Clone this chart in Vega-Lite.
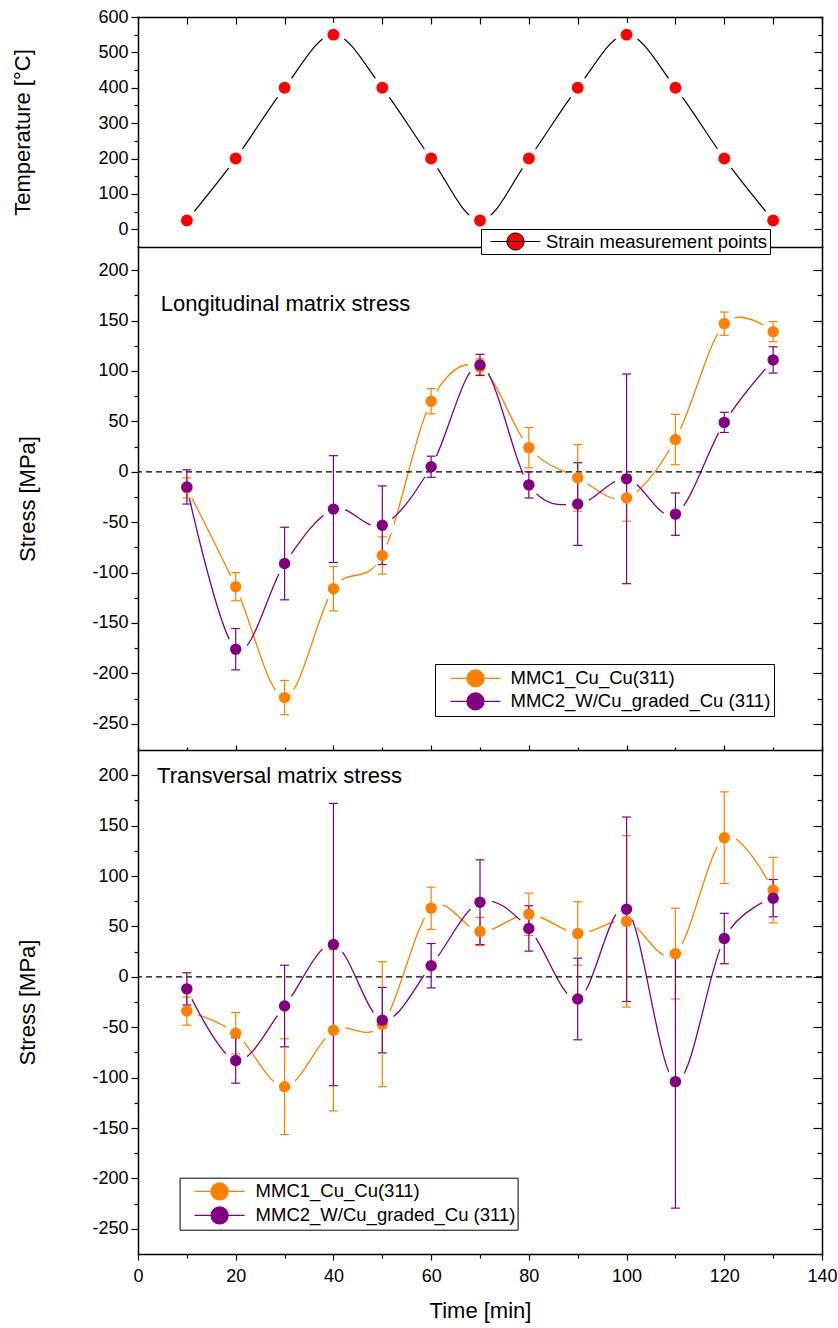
{
"$schema": "https://vega.github.io/schema/vega-lite/v6.json",
"padding": {"left": 11, "top": 8, "right": 5, "bottom": 4},
"datasets": {
 "temp": [
  {"t":10,"T":25,"series":"Strain measurement points"},{"t":20,"T":200,"series":"Strain measurement points"},{"t":30,"T":400,"series":"Strain measurement points"},{"t":40,"T":550,"series":"Strain measurement points"},{"t":50,"T":400,"series":"Strain measurement points"},{"t":60,"T":200,"series":"Strain measurement points"},{"t":70,"T":25,"series":"Strain measurement points"},{"t":80,"T":200,"series":"Strain measurement points"},{"t":90,"T":400,"series":"Strain measurement points"},{"t":100,"T":550,"series":"Strain measurement points"},{"t":110,"T":400,"series":"Strain measurement points"},{"t":120,"T":200,"series":"Strain measurement points"},{"t":130,"T":25,"series":"Strain measurement points"}
 ],
 "long": [
  {"t":10,"s":"MMC1_Cu_Cu(311)","v":-16,"e":10},{"t":20,"s":"MMC1_Cu_Cu(311)","v":-114,"e":14},{"t":30,"s":"MMC1_Cu_Cu(311)","v":-224,"e":17},{"t":40,"s":"MMC1_Cu_Cu(311)","v":-116,"e":22},{"t":50,"s":"MMC1_Cu_Cu(311)","v":-83,"e":18.5},{"t":60,"s":"MMC1_Cu_Cu(311)","v":70,"e":12.5},{"t":70,"s":"MMC1_Cu_Cu(311)","v":104,"e":8},{"t":80,"s":"MMC1_Cu_Cu(311)","v":24,"e":20},{"t":90,"s":"MMC1_Cu_Cu(311)","v":-6,"e":33},{"t":100,"s":"MMC1_Cu_Cu(311)","v":-26,"e":23},{"t":110,"s":"MMC1_Cu_Cu(311)","v":32,"e":25},{"t":120,"s":"MMC1_Cu_Cu(311)","v":147,"e":11.5},{"t":130,"s":"MMC1_Cu_Cu(311)","v":139,"e":10},
  {"t":10,"s":"MMC2_W/Cu_graded_Cu (311)","v":-15,"e":17},{"t":20,"s":"MMC2_W/Cu_graded_Cu (311)","v":-176,"e":20.5},{"t":30,"s":"MMC2_W/Cu_graded_Cu (311)","v":-91,"e":36},{"t":40,"s":"MMC2_W/Cu_graded_Cu (311)","v":-37,"e":53},{"t":50,"s":"MMC2_W/Cu_graded_Cu (311)","v":-53,"e":39},{"t":60,"s":"MMC2_W/Cu_graded_Cu (311)","v":5,"e":10.5},{"t":70,"s":"MMC2_W/Cu_graded_Cu (311)","v":106,"e":10.5},{"t":80,"s":"MMC2_W/Cu_graded_Cu (311)","v":-13,"e":13},{"t":90,"s":"MMC2_W/Cu_graded_Cu (311)","v":-32,"e":41},{"t":100,"s":"MMC2_W/Cu_graded_Cu (311)","v":-7,"e":104},{"t":110,"s":"MMC2_W/Cu_graded_Cu (311)","v":-42,"e":21},{"t":120,"s":"MMC2_W/Cu_graded_Cu (311)","v":49,"e":10},{"t":130,"s":"MMC2_W/Cu_graded_Cu (311)","v":111,"e":13}
 ],
 "trans": [
  {"t":10,"s":"MMC1_Cu_Cu(311)","v":-34,"e":14},{"t":20,"s":"MMC1_Cu_Cu(311)","v":-56,"e":20.5},{"t":30,"s":"MMC1_Cu_Cu(311)","v":-109,"e":47.5},{"t":40,"s":"MMC1_Cu_Cu(311)","v":-53,"e":80},{"t":50,"s":"MMC1_Cu_Cu(311)","v":-47,"e":62},{"t":60,"s":"MMC1_Cu_Cu(311)","v":68,"e":21},{"t":70,"s":"MMC1_Cu_Cu(311)","v":45,"e":14},{"t":80,"s":"MMC1_Cu_Cu(311)","v":62,"e":21},{"t":90,"s":"MMC1_Cu_Cu(311)","v":43,"e":31.5},{"t":100,"s":"MMC1_Cu_Cu(311)","v":55,"e":85},{"t":110,"s":"MMC1_Cu_Cu(311)","v":23,"e":45},{"t":120,"s":"MMC1_Cu_Cu(311)","v":138,"e":45.5},{"t":130,"s":"MMC1_Cu_Cu(311)","v":86,"e":32.5},
  {"t":10,"s":"MMC2_W/Cu_graded_Cu (311)","v":-12,"e":16},{"t":20,"s":"MMC2_W/Cu_graded_Cu (311)","v":-83,"e":22.5},{"t":30,"s":"MMC2_W/Cu_graded_Cu (311)","v":-29,"e":40.5},{"t":40,"s":"MMC2_W/Cu_graded_Cu (311)","v":32,"e":140},{"t":50,"s":"MMC2_W/Cu_graded_Cu (311)","v":-43,"e":32.5},{"t":60,"s":"MMC2_W/Cu_graded_Cu (311)","v":11,"e":22},{"t":70,"s":"MMC2_W/Cu_graded_Cu (311)","v":74,"e":42},{"t":80,"s":"MMC2_W/Cu_graded_Cu (311)","v":48,"e":22.5},{"t":90,"s":"MMC2_W/Cu_graded_Cu (311)","v":-22,"e":40.5},{"t":100,"s":"MMC2_W/Cu_graded_Cu (311)","v":67,"e":91.5},{"t":110,"s":"MMC2_W/Cu_graded_Cu (311)","v":-104,"e":125.5},{"t":120,"s":"MMC2_W/Cu_graded_Cu (311)","v":38,"e":25},{"t":130,"s":"MMC2_W/Cu_graded_Cu (311)","v":78,"e":18.5}
 ]
},
"spacing": 0,
"bounds": "flush",
"resolve": {"scale": {"color": "independent"}, "legend": {"color": "independent"}},
"vconcat": [
 {
  "width": 684, "height": 230,
  "data": {"name": "temp"},
  "layer": [
   {"mark": {"type": "line", "interpolate": "cardinal", "color": "black", "strokeWidth": 1.2},
    "encoding": {
     "x": {"field": "t", "type": "quantitative", "scale": {"domain": [0,140], "nice": false, "zero": false}, "axis": {"orient": "bottom", "values": [], "ticks": false, "labels": false, "title": null, "zindex": 0}},
     "y": {"field": "T", "type": "quantitative", "scale": {"domain": [-50,600], "nice": false, "zero": false},
       "axis": {"orient": "left", "values": [0,50,100,150,200,250,300,350,400,450,500,550,600], "labelExpr": "datum.value % 100 === 0 ? '' + datum.value : ''", "tickSize": {"condition": {"test": "datum.value % 100 === 0", "value": 7}, "value": 4}, "labelPadding": 3, "title": "Temperature [°C]", "titleX": -109, "titleBaseline": "alphabetic", "titleAngle": 270}}
    }},
   {"mark": {"type": "point", "filled": true, "color": "white", "opacity": 1, "size": 560},
    "encoding": {
     "x": {"field": "t", "type": "quantitative", "scale": {"domain": [0,140], "nice": false, "zero": false}, "axis": {"orient": "top", "values": [0,10,20,30,40,50,60,70,80,90,100,110,120,130,140], "labels": false, "title": null, "tickSize": -7}},
     "y": {"field": "T", "type": "quantitative", "scale": {"domain": [-50,600], "nice": false, "zero": false}, "axis": {"orient": "right", "values": [0,50,100,150,200,250,300,350,400,450,500,550,600], "labels": false, "title": null, "tickSize": {"condition": {"test": "datum.value % 100 === 0", "value": -8}, "value": -4}}}
    }},
   {"mark": {"type": "point", "filled": true, "opacity": 1, "size": 140},
    "encoding": {
     "x": {"field": "t", "type": "quantitative", "scale": {"domain": [0,140], "nice": false, "zero": false}, "axis": null},
     "y": {"field": "T", "type": "quantitative", "scale": {"domain": [-50,600], "nice": false, "zero": false}, "axis": null},
     "color": {"field": "series", "type": "nominal", "scale": {"range": ["#FF0000"]},
       "legend": {"orient": "none", "legendX": 343, "legendY": 212, "title": null, "symbolType": "M-1,0L1,0M0.34,0A0.34,0.34,0,1,1,-0.34,0A0.34,0.34,0,1,1,0.34,0Z", "symbolSize": 2500, "symbolStrokeWidth": 1, "symbolStrokeColor": "black", "labelFont": "Liberation Sans", "labelFontSize": 18.5, "labelColor": "black", "labelLimit": 400, "fillColor": "white", "strokeColor": "black", "padding": 2, "clipHeight": 21, "rowPadding": 0, "symbolOffset": 7, "labelOffset": 5, "zindex": 2,
         "encode": {"symbols": {"stroke": {"value": "black"}, "fill": {"value": "#FF0000"}, "strokeWidth": {"value": 1}}}}}
    }}
  ],
  "resolve": {"axis": {"x": "independent", "y": "independent"}}
 },
 {
  "width": 684, "height": 503,
  "data": {"name": "long"},
  "layer": [
   {"transform": [{"filter": "datum.s === 'MMC1_Cu_Cu(311)'"}],
    "mark": {"type": "line", "interpolate": "cardinal", "strokeWidth": 1.3},
    "encoding": {
     "x": {"field": "t", "type": "quantitative", "scale": {"domain": [0,140], "nice": false, "zero": false}, "axis": {"orient": "bottom", "values": [0,10,20,30,40,50,60,70,80,90,100,110,120,130,140], "labels": false, "title": null, "tickSize": {"condition": {"test": "datum.value % 20 === 0", "value": -5}, "value": -3}}},
     "y": {"field": "v", "type": "quantitative", "scale": {"domain": [-276,223], "nice": false, "zero": false},
       "axis": {"orient": "left", "values": [-250,-225,-200,-175,-150,-125,-100,-75,-50,-25,0,25,50,75,100,125,150,175,200], "labelExpr": "datum.value % 50 === 0 ? '' + datum.value : ''", "tickSize": {"condition": {"test": "datum.value % 50 === 0", "value": 7}, "value": 4}, "labelPadding": 3, "title": "Stress [MPa]", "titleX": -104, "titleBaseline": "alphabetic", "titleAngle": 270}},
     "color": {"field": "s", "type": "nominal", "scale": {"domain": ["MMC1_Cu_Cu(311)", "MMC2_W/Cu_graded_Cu (311)"], "range": ["#FF8000", "#800080"]}}
    }},
   {"transform": [{"filter": "datum.s === 'MMC1_Cu_Cu(311)'"}],
    "mark": {"type": "point", "filled": true, "color": "white", "opacity": 1, "size": 560},
    "encoding": {
     "x": {"field": "t", "type": "quantitative", "scale": {"domain": [0,140], "nice": false, "zero": false}, "axis": null},
     "y": {"field": "v", "type": "quantitative", "scale": {"domain": [-276,223], "nice": false, "zero": false}, "axis": {"orient": "right", "values": [-250,-225,-200,-175,-150,-125,-100,-75,-50,-25,0,25,50,75,100,125,150,175,200], "labels": false, "title": null, "tickSize": {"condition": {"test": "datum.value % 50 === 0", "value": -9}, "value": -5}}}
    }},
   {"transform": [{"filter": "datum.s !== 'MMC1_Cu_Cu(311)'"}],
    "mark": {"type": "line", "interpolate": "cardinal", "strokeWidth": 1.3},
    "encoding": {
     "x": {"field": "t", "type": "quantitative", "scale": {"domain": [0,140], "nice": false, "zero": false}, "axis": null},
     "y": {"field": "v", "type": "quantitative", "scale": {"domain": [-276,223], "nice": false, "zero": false}, "axis": null},
     "color": {"field": "s", "type": "nominal", "scale": {"domain": ["MMC1_Cu_Cu(311)", "MMC2_W/Cu_graded_Cu (311)"], "range": ["#FF8000", "#800080"]}}
    }},
   {"transform": [{"filter": "datum.s !== 'MMC1_Cu_Cu(311)'"}],
    "mark": {"type": "point", "filled": true, "color": "white", "opacity": 1, "size": 560},
    "encoding": {
     "x": {"field": "t", "type": "quantitative", "scale": {"domain": [0,140], "nice": false, "zero": false}, "axis": null},
     "y": {"field": "v", "type": "quantitative", "scale": {"domain": [-276,223], "nice": false, "zero": false}, "axis": null}
    }},
   {"data": {"values": [{"ref": 0}]},
    "mark": {"type": "rule", "strokeDash": [6,4], "color": "black", "strokeWidth": 1.2},
    "encoding": {"y": {"field": "ref", "type": "quantitative", "scale": {"domain": [-276,223], "nice": false, "zero": false}, "axis": null}}},
   {"mark": {"type": "errorbar", "ticks": {"size": 9, "thickness": 1.2, "opacity": 1}, "rule": {"strokeWidth": 1.2, "opacity": 1}},
    "encoding": {
     "x": {"field": "t", "type": "quantitative", "scale": {"domain": [0,140], "nice": false, "zero": false}, "axis": null},
     "y": {"field": "v", "type": "quantitative", "scale": {"domain": [-276,223], "nice": false, "zero": false}, "axis": null},
     "yError": {"field": "e"},
     "color": {"field": "s", "type": "nominal", "scale": {"domain": ["MMC1_Cu_Cu(311)", "MMC2_W/Cu_graded_Cu (311)"], "range": ["#FF8000", "#800080"]}}
    }},
   {"mark": {"type": "point", "filled": true, "opacity": 1, "size": 130},
    "encoding": {
     "x": {"field": "t", "type": "quantitative", "scale": {"domain": [0,140], "nice": false, "zero": false}, "axis": null},
     "y": {"field": "v", "type": "quantitative", "scale": {"domain": [-276,223], "nice": false, "zero": false}, "axis": null},
     "color": {"field": "s", "type": "nominal", "scale": {"domain": ["MMC1_Cu_Cu(311)", "MMC2_W/Cu_graded_Cu (311)"], "range": ["#FF8000", "#800080"]},
       "legend": {"orient": "none", "legendX": 297, "legendY": 417, "title": null, "symbolType": "M-1,0L1,0M0.34,0A0.34,0.34,0,1,1,-0.34,0A0.34,0.34,0,1,1,0.34,0Z", "symbolSize": 2500, "symbolStrokeWidth": 1.3, "labelFont": "Liberation Sans", "labelFontSize": 18.5, "labelColor": "black", "labelLimit": 400, "fillColor": "white", "strokeColor": "black", "padding": 3, "clipHeight": 22.7, "rowPadding": 0, "symbolOffset": 11.5, "labelOffset": 9, "zindex": 2,
         "encode": {"symbols": {"stroke": {"condition": {"test": "datum.value === 'MMC1_Cu_Cu(311)'", "value": "#FF8000"}, "value": "#800080"}, "fill": {"condition": {"test": "datum.value === 'MMC1_Cu_Cu(311)'", "value": "#FF8000"}, "value": "#800080"}, "strokeWidth": {"value": 1.3}}}}}
    }},
   {"data": {"values": [{"label": "Longitudinal matrix stress"}]},
    "mark": {"type": "text", "align": "left", "baseline": "alphabetic", "fontSize": 22, "font": "Liberation Sans", "color": "black"},
    "encoding": {
     "x": {"datum": 4.65, "type": "quantitative", "scale": {"domain": [0,140], "nice": false, "zero": false}, "axis": null},
     "y": {"datum": 160, "type": "quantitative", "scale": {"domain": [-276,223], "nice": false, "zero": false}, "axis": null},
     "text": {"field": "label"}
    }}
  ],
  "resolve": {"axis": {"x": "independent", "y": "independent"}}
 },
 {
  "width": 684, "height": 504,
  "data": {"name": "trans"},
  "layer": [
   {"transform": [{"filter": "datum.s === 'MMC1_Cu_Cu(311)'"}],
    "mark": {"type": "line", "interpolate": "cardinal", "strokeWidth": 1.3},
    "encoding": {
     "x": {"field": "t", "type": "quantitative", "scale": {"domain": [0,140], "nice": false, "zero": false}, "axis": {"orient": "bottom", "values": [0,10,20,30,40,50,60,70,80,90,100,110,120,130,140], "labelExpr": "datum.value % 20 === 0 ? '' + datum.value : ''", "tickSize": {"condition": {"test": "datum.value % 20 === 0", "value": 6}, "value": 4}, "labelPadding": 7, "title": "Time [min]", "titlePadding": 15}},
     "y": {"field": "v", "type": "quantitative", "scale": {"domain": [-275,225], "nice": false, "zero": false},
       "axis": {"orient": "left", "values": [-250,-225,-200,-175,-150,-125,-100,-75,-50,-25,0,25,50,75,100,125,150,175,200], "labelExpr": "datum.value % 50 === 0 ? '' + datum.value : ''", "tickSize": {"condition": {"test": "datum.value % 50 === 0", "value": 7}, "value": 4}, "labelPadding": 3, "title": "Stress [MPa]", "titleX": -104, "titleBaseline": "alphabetic", "titleAngle": 270}},
     "color": {"field": "s", "type": "nominal", "scale": {"domain": ["MMC1_Cu_Cu(311)", "MMC2_W/Cu_graded_Cu (311)"], "range": ["#FF8000", "#800080"]}}
    }},
   {"transform": [{"filter": "datum.s === 'MMC1_Cu_Cu(311)'"}],
    "mark": {"type": "point", "filled": true, "color": "white", "opacity": 1, "size": 560},
    "encoding": {
     "x": {"field": "t", "type": "quantitative", "scale": {"domain": [0,140], "nice": false, "zero": false}, "axis": null},
     "y": {"field": "v", "type": "quantitative", "scale": {"domain": [-275,225], "nice": false, "zero": false}, "axis": {"orient": "right", "values": [-250,-225,-200,-175,-150,-125,-100,-75,-50,-25,0,25,50,75,100,125,150,175,200], "labels": false, "title": null, "tickSize": {"condition": {"test": "datum.value % 50 === 0", "value": -9}, "value": -5}}}
    }},
   {"transform": [{"filter": "datum.s !== 'MMC1_Cu_Cu(311)'"}],
    "mark": {"type": "line", "interpolate": "cardinal", "strokeWidth": 1.3},
    "encoding": {
     "x": {"field": "t", "type": "quantitative", "scale": {"domain": [0,140], "nice": false, "zero": false}, "axis": null},
     "y": {"field": "v", "type": "quantitative", "scale": {"domain": [-275,225], "nice": false, "zero": false}, "axis": null},
     "color": {"field": "s", "type": "nominal", "scale": {"domain": ["MMC1_Cu_Cu(311)", "MMC2_W/Cu_graded_Cu (311)"], "range": ["#FF8000", "#800080"]}}
    }},
   {"transform": [{"filter": "datum.s !== 'MMC1_Cu_Cu(311)'"}],
    "mark": {"type": "point", "filled": true, "color": "white", "opacity": 1, "size": 560},
    "encoding": {
     "x": {"field": "t", "type": "quantitative", "scale": {"domain": [0,140], "nice": false, "zero": false}, "axis": null},
     "y": {"field": "v", "type": "quantitative", "scale": {"domain": [-275,225], "nice": false, "zero": false}, "axis": null}
    }},
   {"data": {"values": [{"ref": 0}]},
    "mark": {"type": "rule", "strokeDash": [6,4], "color": "black", "strokeWidth": 1.2},
    "encoding": {"y": {"field": "ref", "type": "quantitative", "scale": {"domain": [-275,225], "nice": false, "zero": false}, "axis": null}}},
   {"mark": {"type": "errorbar", "ticks": {"size": 9, "thickness": 1.2, "opacity": 1}, "rule": {"strokeWidth": 1.2, "opacity": 1}},
    "encoding": {
     "x": {"field": "t", "type": "quantitative", "scale": {"domain": [0,140], "nice": false, "zero": false}, "axis": null},
     "y": {"field": "v", "type": "quantitative", "scale": {"domain": [-275,225], "nice": false, "zero": false}, "axis": null},
     "yError": {"field": "e"},
     "color": {"field": "s", "type": "nominal", "scale": {"domain": ["MMC1_Cu_Cu(311)", "MMC2_W/Cu_graded_Cu (311)"], "range": ["#FF8000", "#800080"]}}
    }},
   {"mark": {"type": "point", "filled": true, "opacity": 1, "size": 130},
    "encoding": {
     "x": {"field": "t", "type": "quantitative", "scale": {"domain": [0,140], "nice": false, "zero": false}, "axis": null},
     "y": {"field": "v", "type": "quantitative", "scale": {"domain": [-275,225], "nice": false, "zero": false}, "axis": null},
     "color": {"field": "s", "type": "nominal", "scale": {"domain": ["MMC1_Cu_Cu(311)", "MMC2_W/Cu_graded_Cu (311)"], "range": ["#FF8000", "#800080"]},
       "legend": {"orient": "none", "legendX": 41.6, "legendY": 427.7, "title": null, "symbolType": "M-1,0L1,0M0.34,0A0.34,0.34,0,1,1,-0.34,0A0.34,0.34,0,1,1,0.34,0Z", "symbolSize": 2500, "symbolStrokeWidth": 1.3, "labelFont": "Liberation Sans", "labelFontSize": 18.5, "labelColor": "black", "labelLimit": 400, "fillColor": "white", "strokeColor": "black", "padding": 2, "clipHeight": 23.5, "rowPadding": 0, "symbolOffset": 12, "labelOffset": 10, "zindex": 2,
         "encode": {"symbols": {"stroke": {"condition": {"test": "datum.value === 'MMC1_Cu_Cu(311)'", "value": "#FF8000"}, "value": "#800080"}, "fill": {"condition": {"test": "datum.value === 'MMC1_Cu_Cu(311)'", "value": "#FF8000"}, "value": "#800080"}, "strokeWidth": {"value": 1.3}}}}}
    }},
   {"data": {"values": [{"label": "Transversal matrix stress"}]},
    "mark": {"type": "text", "align": "left", "baseline": "alphabetic", "fontSize": 22, "font": "Liberation Sans", "color": "black"},
    "encoding": {
     "x": {"datum": 3.9, "type": "quantitative", "scale": {"domain": [0,140], "nice": false, "zero": false}, "axis": null},
     "y": {"datum": 192, "type": "quantitative", "scale": {"domain": [-275,225], "nice": false, "zero": false}, "axis": null},
     "text": {"field": "label"}
    }}
  ],
  "resolve": {"axis": {"x": "independent", "y": "independent"}}
 }
],
"config": {
 "view": {"stroke": null},
 "font": "Liberation Sans",
 "axis": {"labelFont": "Liberation Sans", "labelFontSize": 18, "labelColor": "black", "titleFont": "Liberation Sans", "titleFontSize": 22, "titleFontWeight": "normal", "titleColor": "black", "domainColor": "black", "domainWidth": 1.5, "domainCap": "square", "tickColor": "black", "tickWidth": 1.2, "grid": false, "zindex": 1, "labelFlush": false, "labelOverlap": false}
}
}
